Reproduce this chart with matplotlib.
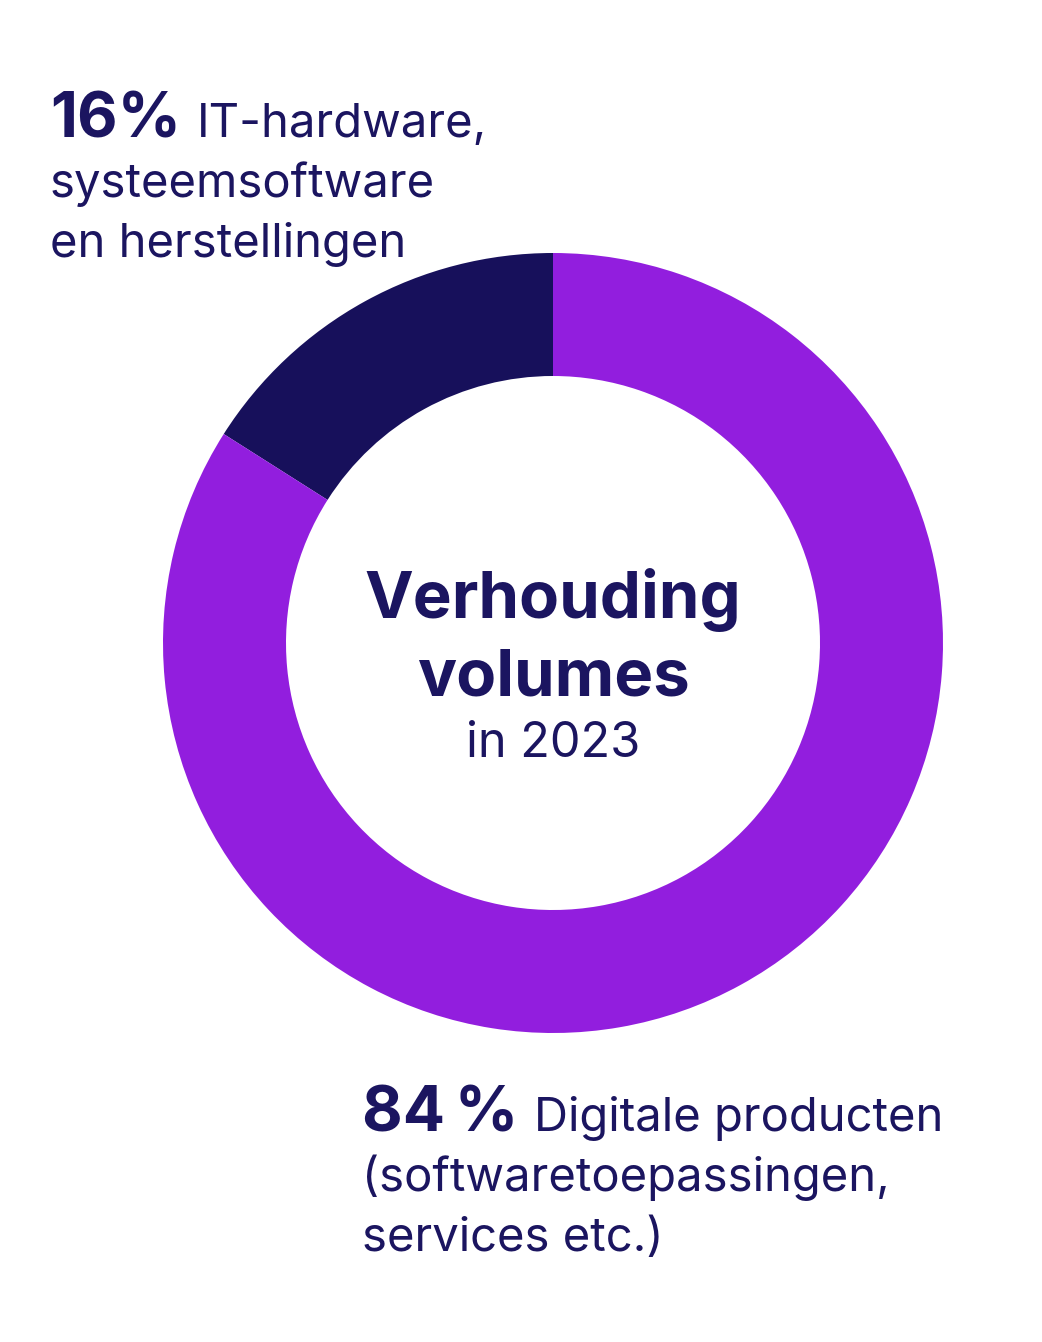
import matplotlib
matplotlib.use("Agg")
import matplotlib.pyplot as plt

# data
labels = ["IT-hardware, systeemsoftware en herstellingen",
          "Digitale producten (softwaretoepassingen, services etc.)"]
shares = [16, 84]
colors = ["#17105B", "#921EDE"]
text_color = "#1B1560"

top_pct = "16%"
top_lines = ["IT-hardware,", "systeemsoftware", "en herstellingen"]
bottom_pct = "84\u2009%"
bottom_lines = ["Digitale producten", "(softwaretoepassingen,", "services etc.)"]
center_title = ["Verhouding", "volumes"]
center_sub = "in 2023"

W, H = 1042, 1342
fig = plt.figure(figsize=(W / 100, H / 100), dpi=100)
ax = fig.add_axes([0, 0, 1, 1])
ax.set_xlim(0, W)
ax.set_ylim(0, H)
ax.axis("off")

cx, cy = 553, H - 643
ax.pie(shares, colors=colors, startangle=90, counterclock=True,
       radius=390, center=(cx, cy), frame=False,
       wedgeprops=dict(width=123, linewidth=0))
ax.set_xlim(0, W)
ax.set_ylim(0, H)
ax.set_aspect("auto")

font = ["Inter", "DejaVu Sans"]
fig.canvas.draw()
renderer = fig.canvas.get_renderer()


def label_block(x, y0, pct, lines, gap=16):
    t = ax.text(x, H - y0, pct, fontsize=45, fontweight="bold", color=text_color,
                family=font, va="baseline", ha="left")
    bb = t.get_window_extent(renderer=renderer)
    ax.text(bb.x1 + gap, H - y0, lines[0], fontsize=34, color=text_color,
            family=font, va="baseline", ha="left")
    for i, ln in enumerate(lines[1:], start=1):
        ax.text(x, H - y0 - 60 * i, ln, fontsize=34, color=text_color,
                family=font, va="baseline", ha="left")


label_block(50, 137, top_pct, top_lines)
label_block(362, 1131, bottom_pct, bottom_lines)

ax.text(cx, H - 618, center_title[0], fontsize=47, fontweight="bold",
        color=text_color, family=font, ha="center", va="baseline")
ax.text(cx, H - 695, center_title[1], fontsize=47, fontweight="bold",
        color=text_color, family=font, ha="center", va="baseline")
ax.text(cx, H - 757, center_sub, fontsize=35, color=text_color,
        family=font, ha="center", va="baseline")

fig.savefig("out.png", dpi=100, facecolor="white")
